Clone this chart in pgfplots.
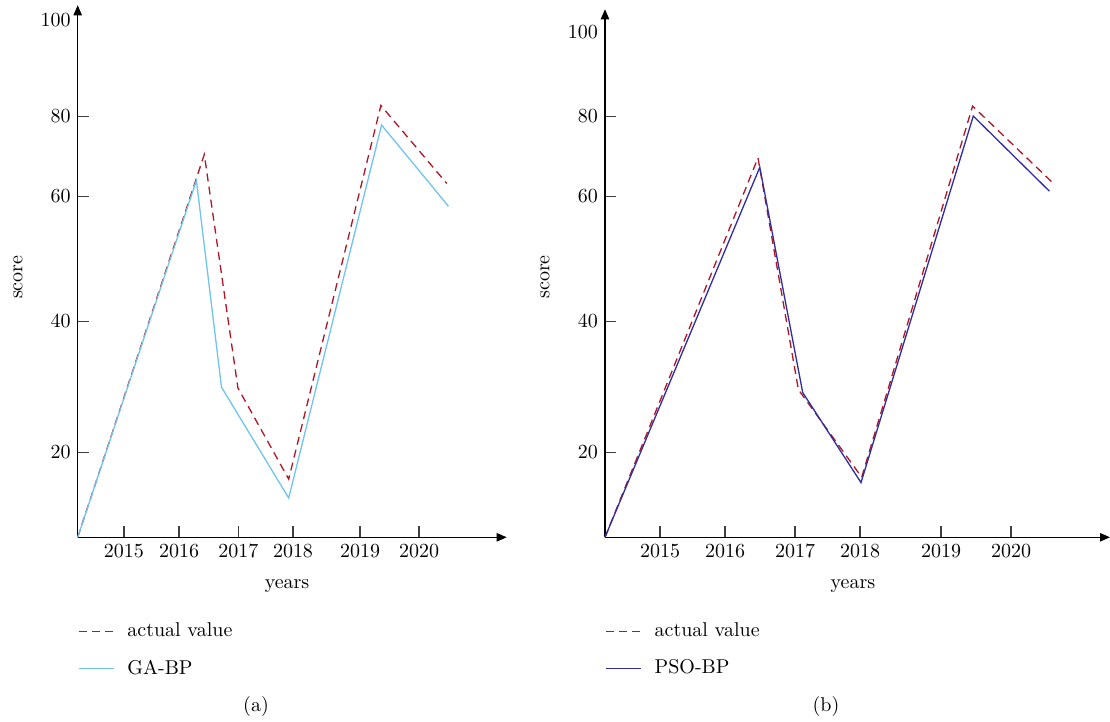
\documentclass[border=0pt]{standalone}
\usepackage{pgfplots}
\pgfplotsset{compat=1.18}
\usetikzlibrary{arrows.meta}
\definecolor{actred}{RGB}{175,22,40}
\definecolor{gablue}{RGB}{112,196,236}
\definecolor{psoblue}{RGB}{48,44,160}
\newcommand{\chfont}{\fontsize{10}{12}\selectfont}
\pgfplotsset{
  panel/.style={
    axis lines=left,
    axis line style={black, line width=0.55pt, -{Triangle[length=5pt,width=4.2pt]}},
    x=0.5pt, y=0.5pt,
    xmin=0, ymin=0,
    enlargelimits=false,
    tick align=inside,
    major tick length=5.5pt,
    tick style={black!75, line width=0.55pt},
    ytick={85,215.9,341,421.1},
    yticklabels={20,40,60,80},
    tick label style={font=\chfont},
    xlabel={years}, ylabel={score},
    label style={font=\chfont},
    anchor=south west,
    legend style={draw=none, fill=none, font=\chfont, anchor=west,
      inner sep=0pt, row sep=6pt,
      /tikz/every odd column/.style={column sep=0pt}},
    legend image code/.code={\draw[##1] (0pt,0pt) -- (17.5pt,0pt); \path (22pt,0pt);},
    legend cell align=left,
    clip=false,
  },
  actual/.style={color=actred, dash pattern=on 4pt off 2.6pt, line width=0.65pt},
}
\begin{document}
\begin{tikzpicture}
\useasboundingbox (0,0) rectangle (555pt,361pt);
% ---------- (a) ----------
\begin{axis}[panel,
  at={(38.85pt,92.35pt)},
  xmax=429, ymax=532,
  xtick={46.3,101.3,160.6,215.3,282.3,341.3},
  xticklabels={2015,2016,2017,2018,2019,2020},
  extra y ticks={516.9}, extra y tick labels={100},
  extra y tick style={major tick length=0pt},
  xlabel style={at={(axis description cs:0.488,-0.0915)}, anchor=center},
  ylabel style={at={(axis description cs:-0.139,0.489)}, anchor=center},
  legend style={at={(axis cs:0,-112.7)}},
]
\addplot[actual] coordinates {(0,0) (126.6,382.8) (160.2,149.4) (211,58.2) (303.2,431.8) (369,353.9)};
\addlegendentry{actual value}
\addplot[color=gablue, line width=0.65pt] coordinates {(0,0) (118.7,356.8) (143.8,150.1) (211,39.3) (303.9,412.2) (370.8,331)};
\addlegendentry{GA-BP}
\node[font=\chfont] at (axis cs:178.3,-169.7) {(a)};
\end{axis}
% ---------- (b) ----------
\begin{axis}[panel,
  at={(302.5pt,92.35pt)},
  xmax=505, ymax=528,
  xtick={55,120,190,255,336,406},
  xticklabels={2015,2016,2017,2018,2019,2020},
  extra y ticks={505.3}, extra y tick labels={100},
  extra y tick style={major tick length=0pt},
  xlabel style={at={(axis description cs:0.491,-0.0922)}, anchor=center},
  ylabel style={at={(axis description cs:-0.119,0.493)}, anchor=center},
  legend style={at={(axis cs:0,-112.7)}},
]
\addplot[actual] coordinates {(0,0) (153,379.4) (193.4,147.7) (256.7,60.1) (367.6,431.2) (449.1,353.2)};
\addlegendentry{actual value}
\addplot[color=psoblue, line width=0.65pt] coordinates {(0,0) (154.8,370) (197.7,144.8) (256,54.7) (368.3,421.2) (444.4,346.1)};
\addlegendentry{PSO-BP}
\node[font=\chfont] at (axis cs:221,-169.7) {(b)};
\end{axis}
\end{tikzpicture}
\end{document}
